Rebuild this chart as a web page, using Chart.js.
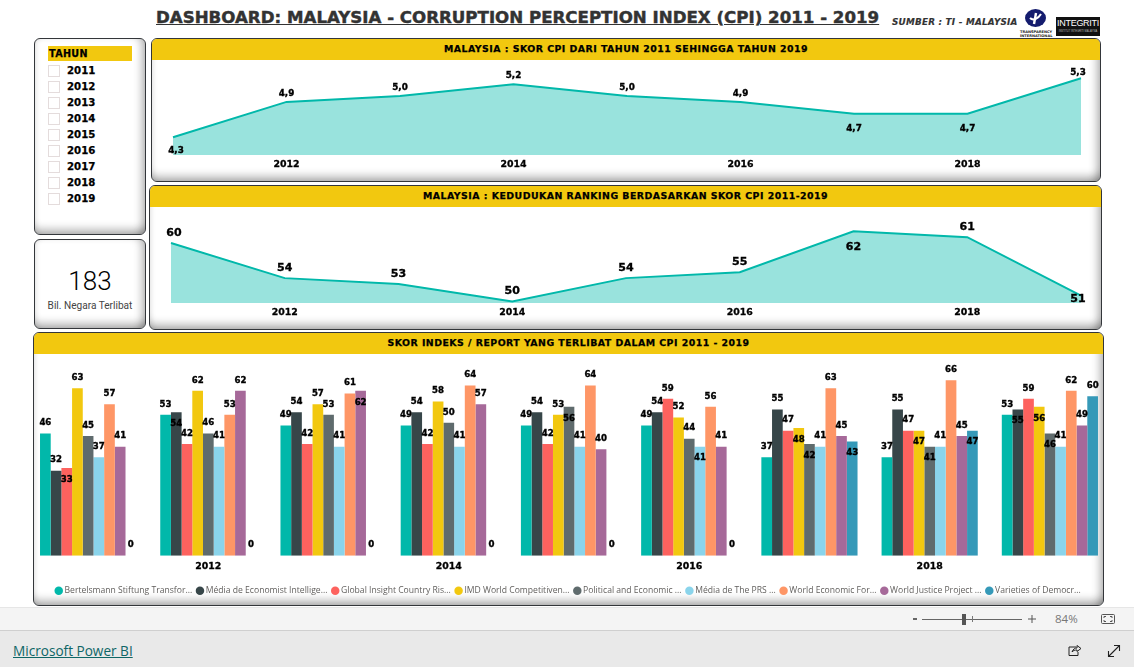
<!DOCTYPE html>
<html>
<head>
<meta charset="utf-8">
<title>Dashboard CPI Malaysia</title>
<script src="https://cdn.jsdelivr.net/npm/chart.js@4"></script>
<style>
  html, body { margin: 0; padding: 0; background: #fff; width: 1134px; height: 667px; overflow: hidden; font-family: "DejaVu Sans", sans-serif; }
  .abs { position: absolute; }
  .painel { position: absolute; box-sizing: border-box; border: 1px solid #33363a; border-radius: 6px; background: #fff; overflow: hidden;
    box-shadow: inset 0 -11px 10px -7px rgba(0,0,0,.33), inset -8px 0 8px -5px rgba(0,0,0,.3), inset 5px 0 6px -5px rgba(0,0,0,.14); }
  .cabecalho { position: absolute; left: 0; top: 0; right: 0; height: 21px; background: #f2c80f; text-align: center; font-weight: bold; font-size: 9.4px; line-height: 20px; color: #000; letter-spacing: .48px; -webkit-text-stroke: .25px #000; }
  canvas { position: absolute; }
  #titulo { left: 156px; top: 7px; font-weight: bold; font-size: 16.65px; line-height: 22px; color: #333; text-decoration: underline; white-space: nowrap; -webkit-text-stroke: .45px #333; }
  #fonte { left: 892px; top: 17px; font: italic bold 8.8px "DejaVu Sans"; color: #333; letter-spacing: .25px; white-space: nowrap; -webkit-text-stroke: .15px #333; }
  #ti_logo { left: 1025px; top: 9px; }
  #ti_texto { left: 1020px; top: 30px; width: 32px; text-align: center; font: bold 3.6px/4px "DejaVu Sans"; color: #222; }
  #integriti { left: 1056px; top: 17px; width: 44px; height: 18.5px; background: #111; color: #fff; text-align: center; font: 9px/13px "Liberation Sans"; letter-spacing: -.3px; overflow: hidden; }
  #integriti small { display: block; font-size: 2.6px; line-height: 3px; color: #bbb; letter-spacing: 0; }
  #tahun_titulo { left: 13px; top: 6.5px; width: 84px; height: 15px; background: #f2c80f; font: bold 9.6px/16px "DejaVu Sans"; color: #000; padding-left: 1px; box-sizing: border-box; letter-spacing: .35px; -webkit-text-stroke: .25px #000; }
  .item_ano { position: absolute; left: 13px; height: 12px; }
  .item_ano i { position: absolute; left: 0; top: 0; width: 10px; height: 10px; border: 1px solid #e4dcdc; }
  .item_ano b { position: absolute; left: 19px; top: -1px; font-size: 10.2px; line-height: 14px; color: #000; -webkit-text-stroke: .25px #000; }
  #numero { left: 0; right: 0; top: 26px; text-align: center; font: 300 26px/30px Roboto; color: #000; }
  #rotulo_numero { left: 0; right: 0; top: 60px; text-align: center; font: 10.1px/12px Roboto; color: #444; }
  #faixa { left: 0; top: 607px; width: 1134px; height: 23px; background: #f4f4f4; border-top: 1px solid #e6e6e6; box-sizing: border-box; }
  #rodape { left: 0; top: 630px; width: 1134px; height: 37px; background: #e9e9e9; border-top: 1px solid #cfcfcf; box-sizing: border-box; }
  #link { left: 13px; top: 642px; font: 13.6px/18px "Open Sans"; color: #0e6666; text-decoration: underline; }
  #zoom_menos { left: 913px; top: 618px; width: 4px; height: 2px; background: #666; }
  #zoom_linha { left: 922px; top: 619px; width: 100px; height: 1px; background: #666; }
  #zoom_marca { left: 972px; top: 616px; width: 1px; height: 6px; background: #777; }
  #zoom_cursor { left: 962px; top: 614px; width: 4px; height: 11px; background: #555; }
  #zoom_mais { left: 1028px; top: 615px; }
  #zoom_pct { left: 1055px; top: 611px; font: 11.5px/16px "Open Sans"; color: #777; }
  #ajuste { left: 1101px; top: 614px; }
  #partilha { left: 1067px; top: 643px; }
  #expandir { left: 1107px; top: 644px; }
</style>
</head>
<body>

<div class="abs" id="titulo">DASHBOARD: MALAYSIA - CORRUPTION PERCEPTION INDEX (CPI) 2011 - 2019</div>
<div class="abs" id="fonte">SUMBER : TI - MALAYSIA</div>
<svg class="abs" id="ti_logo" width="21" height="18" viewBox="0 0 21 18">
  <ellipse cx="10.5" cy="9" rx="10.5" ry="9" fill="#141c6e"/>
  <path d="M5 9 C8 12 13 10 16 5" fill="none" stroke="#fff" stroke-width="2"/>
  <path d="M11 4 L9 15" fill="none" stroke="#fff" stroke-width="2.4"/>
</svg>
<div class="abs" id="ti_texto">TRANSPARENCY INTERNATIONAL</div>
<div class="abs" id="integriti">INTEGRITI<small>INSTITUT INTEGRITI MALAYSIA</small></div>

<div class="painel" id="painel_tahun" style="left:34px;top:38px;width:112px;height:197px">
  <div class="abs" id="tahun_titulo">TAHUN</div>
</div>
<div class="painel" style="left:34px;top:239px;width:112px;height:90px">
  <div class="abs" id="numero">183</div>
  <div class="abs" id="rotulo_numero">Bil. Negara Terlibat</div>
</div>
<div class="painel" style="left:151px;top:38px;width:950px;height:144px">
  <div class="cabecalho">MALAYSIA : SKOR CPI DARI TAHUN 2011 SEHINGGA TAHUN 2019</div>
</div>
<div class="painel" style="left:149px;top:185px;width:953px;height:145px">
  <div class="cabecalho">MALAYSIA : KEDUDUKAN RANKING BERDASARKAN SKOR CPI 2011-2019</div>
</div>
<div class="painel" style="left:33px;top:332px;width:1071px;height:274px">
  <div class="cabecalho">SKOR INDEKS / REPORT YANG TERLIBAT DALAM CPI 2011 - 2019</div>
</div>

<canvas id="grafico_skor" style="left:151px;top:60px" width="950" height="120"></canvas>
<canvas id="grafico_ranking" style="left:149px;top:207px" width="953" height="121"></canvas>
<canvas id="grafico_indeks" style="left:28px;top:356px" width="1082" height="249"></canvas>

<div class="abs" id="faixa"></div>
<div class="abs" id="rodape"></div>
<div class="abs" id="zoom_menos"></div>
<div class="abs" id="zoom_linha"></div>
<div class="abs" id="zoom_marca"></div>
<div class="abs" id="zoom_cursor"></div>
<svg class="abs" id="zoom_mais" width="8" height="8" viewBox="0 0 8 8" stroke="#555">
  <path d="M0 4 H8 M4 0 V8"/>
</svg>
<div class="abs" id="zoom_pct">84%</div>
<svg class="abs" id="ajuste" width="14" height="10" viewBox="0 0 14 10" fill="none" stroke="#555">
  <rect x=".5" y=".5" width="13" height="9" rx="1"/>
  <path d="M3 4 V2.5 H5 M9 2.5 H11 V4 M11 6 V7.5 H9 M5 7.5 H3 V6"/>
</svg>
<svg class="abs" id="partilha" width="15" height="14" viewBox="0 0 15 14" fill="none" stroke="#222">
  <path d="M9 4 H2 V12.5 H11 V9"/>
  <path d="M5 9 C6 6 8 5 10 5 V2.5 L14 5.5 L10 8.5 V7 C8 7 6 7.5 5 9 Z"/>
</svg>
<svg class="abs" id="expandir" width="14" height="14" viewBox="0 0 14 14" fill="none" stroke="#222" stroke-width="1.1">
  <path d="M1.5 12.5 L12.5 1.5 M7 1.5 H12.5 V7 M1.5 7 V12.5 H7"/>
</svg>
<a class="abs" id="link">Microsoft Power BI</a>

<script>
const anos = ["2011", "2012", "2013", "2014", "2015", "2016", "2017", "2018", "2019"];

const skor_cpi = [4.3, 4.9, 5.0, 5.2, 5.0, 4.9, 4.7, 4.7, 5.3];
const ranking = [60, 54, 53, 50, 54, 55, 62, 61, 51];

const bertelsmann = [46, 53, 49, 49, 49, 49, 37, 37, 53];
const economist = [32, 54, 54, 54, 54, 54, 55, 55, 55];
const global_insight = [33, 42, 42, 42, 42, 59, 47, 47, 59];
const imd = [63, 62, 57, 58, 53, 52, 48, 47, 56];
const political_economic = [45, 46, 53, 50, 56, 44, 42, 41, 46];
const prs = [37, 41, 41, 41, 41, 41, 41, 41, 41];
const world_economic = [57, 53, 61, 64, 64, 56, 63, 66, 62];
const world_justice = [41, 62, 62, 57, 40, 41, 45, 45, 49];
const varieties = [0, 0, 0, 0, 0, 0, 43, 47, 60];

const nomes_series = [
  "Bertelsmann Stiftung Transfor...", "Média de Economist Intellige...", "Global Insight Country Ris...",
  "IMD World Competitiven...", "Political and Economic ...", "Média de The PRS ...",
  "World Economic For...", "World Justice Project ...", "Varieties of Democr..."
];
const cores_series = ["#01b8aa", "#374649", "#fd625e", "#f2c80f", "#5f6b6d", "#8ad4eb", "#fe9666", "#a66999", "#3599b8"];

// lado do rotulo em cada ponto das linhas: 1 = em cima, -1 = em baixo
const lado_skor = [-1, 1, 1, 1, 1, 1, -1, -1, 1];
const lado_ranking = [1, 1, 1, 1, 1, 1, -1, 1, -1];

// preencher o slicer
var painel_tahun = document.getElementById("painel_tahun");
anos.forEach((ano, i) => {
  var item = document.createElement("div");
  item.className = "item_ano";
  item.style.top = (26 + i * 16) + "px";
  item.innerHTML = "<i></i><b>" + ano + "</b>";
  painel_tahun.appendChild(item);
});

const rotulo_ano = (valor, i) => (i % 2 == 1 ? anos[i] : "");

const desenhar_texto = (ctx, texto, x, y) => {
  ctx.strokeText(texto, x, y);
  ctx.fillText(texto, x, y);
};

const rotulos_linha = {
  id: "rotulos_linha",
  afterDatasetsDraw(chart, args, opts) {
    const ctx = chart.ctx;
    const area = chart.chartArea;
    const pontos = chart.getDatasetMeta(0).data;
    ctx.save();
    ctx.font = opts.fonte;
    ctx.fillStyle = "#000";
    ctx.strokeStyle = "#000";
    ctx.lineWidth = 0.35;
    ctx.textAlign = "center";
    ctx.textBaseline = "middle";
    pontos.forEach((p, i) => {
      var texto = opts.formato(chart.data.datasets[0].data[i]);
      var y = opts.lados[i] > 0 ? p.y - opts.acima : p.y + opts.abaixo;
      y = Math.max(area.top + 6.5, Math.min(area.bottom - 4, y));
      var x = Math.max(area.left + 3, Math.min(area.right - 3, p.x));
      desenhar_texto(ctx, texto, x, y);
    });
    ctx.restore();
  }
};

// rotulo vai para dentro da barra quando bate no rotulo da barra anterior
const rotulos_barras = {
  id: "rotulos_barras",
  afterDatasetsDraw(chart) {
    const ctx = chart.ctx;
    ctx.save();
    ctx.font = "bold 8.6px 'DejaVu Sans'";
    ctx.fillStyle = "#000";
    ctx.strokeStyle = "#000";
    ctx.lineWidth = 0.35;
    ctx.textAlign = "center";
    ctx.textBaseline = "middle";
    anos.forEach((ano, i) => {
      var anterior = null;
      chart.data.datasets.forEach((ds, d) => {
        var barra = chart.getDatasetMeta(d).data[i];
        var y = barra.y - 10.5;
        if (anterior !== null && Math.abs(y - anterior) < 8.3) y = barra.y + 11.5;
        desenhar_texto(ctx, String(ds.data[i]), barra.x, y);
        anterior = y;
      });
    });
    ctx.restore();
  }
};

const marcas_ano = (padding) => ({
  autoSkip: false,
  maxRotation: 0,
  padding: padding,
  color: "#000",
  textStrokeColor: "#000",
  textStrokeWidth: 0.3,
  font: { family: "DejaVu Sans", weight: "bold", size: 9.4 },
  callback: rotulo_ano
});

const criar_grafico_linha = (id, valores, rotulo, minimo, maximo, padding, opts_rotulos) => {
  var ctx = document.getElementById(id);
  return new Chart(ctx, {
    type: "line",
    data: {
      labels: anos,
      datasets: [
        {
          label: rotulo,
          data: valores,
          borderColor: "#01b8aa",
          borderWidth: 2,
          backgroundColor: "rgba(1, 184, 170, 0.4)",
          fill: "start",
          tension: 0,
          pointRadius: 0
        }
      ]
    },
    options: {
      responsive: false,
      animation: false,
      layout: { padding: padding },
      plugins: { legend: { display: false }, tooltip: { enabled: false }, rotulos_linha: opts_rotulos },
      scales: {
        x: {
          grid: { display: false, drawTicks: false },
          border: { display: false },
          afterFit(s) { s.height = 25; },
          ticks: marcas_ano(4)
        },
        y: { display: false, min: minimo, max: maximo }
      }
    },
    plugins: [rotulos_linha]
  });
};

criar_grafico_linha("grafico_skor", skor_cpi, "Skor CPI", 4, 5.5, { left: 22, right: 20, top: 6.5, bottom: 0 }, {
  lados: lado_skor, acima: 8.5, abaixo: 15, fonte: "bold 8.8px 'DejaVu Sans'",
  formato: v => v.toFixed(1).replace(".", ",")
});
criar_grafico_linha("grafico_ranking", ranking, "Ranking", 49.75, 64, { left: 22, right: 21, top: 12.6, bottom: 0 }, {
  lados: lado_ranking, acima: 10, abaixo: 15.5, fonte: "bold 11px 'DejaVu Sans'",
  formato: v => String(v)
});

var series = [bertelsmann, economist, global_insight, imd, political_economic, prs, world_economic, world_justice, varieties];

new Chart(document.getElementById("grafico_indeks"), {
  type: "bar",
  data: {
    labels: anos,
    datasets: series.map((valores, i) => ({
      label: nomes_series[i],
      data: valores,
      backgroundColor: cores_series[i],
      barPercentage: 1,
      categoryPercentage: 0.8
    }))
  },
  options: {
    responsive: false,
    animation: false,
    layout: { padding: { left: 0, right: 0, top: 13.6, bottom: 0 } },
    plugins: {
      tooltip: { enabled: false },
      legend: {
        position: "bottom",
        labels: {
          usePointStyle: true,
          pointStyle: "circle",
          boxWidth: 3,
          boxHeight: 6,
          padding: 6.3,
          color: "#605e5c",
          font: { family: "Open Sans", size: 8.6 }
        }
      }
    },
    scales: {
      x: {
        grid: { display: false, drawTicks: false },
        border: { display: false },
        afterFit(s) { s.height = 24.4; },
        ticks: marcas_ano(5)
      },
      y: { display: false, min: 0, max: 70 }
    }
  },
  plugins: [rotulos_barras]
});
</script>
</body>
</html>
